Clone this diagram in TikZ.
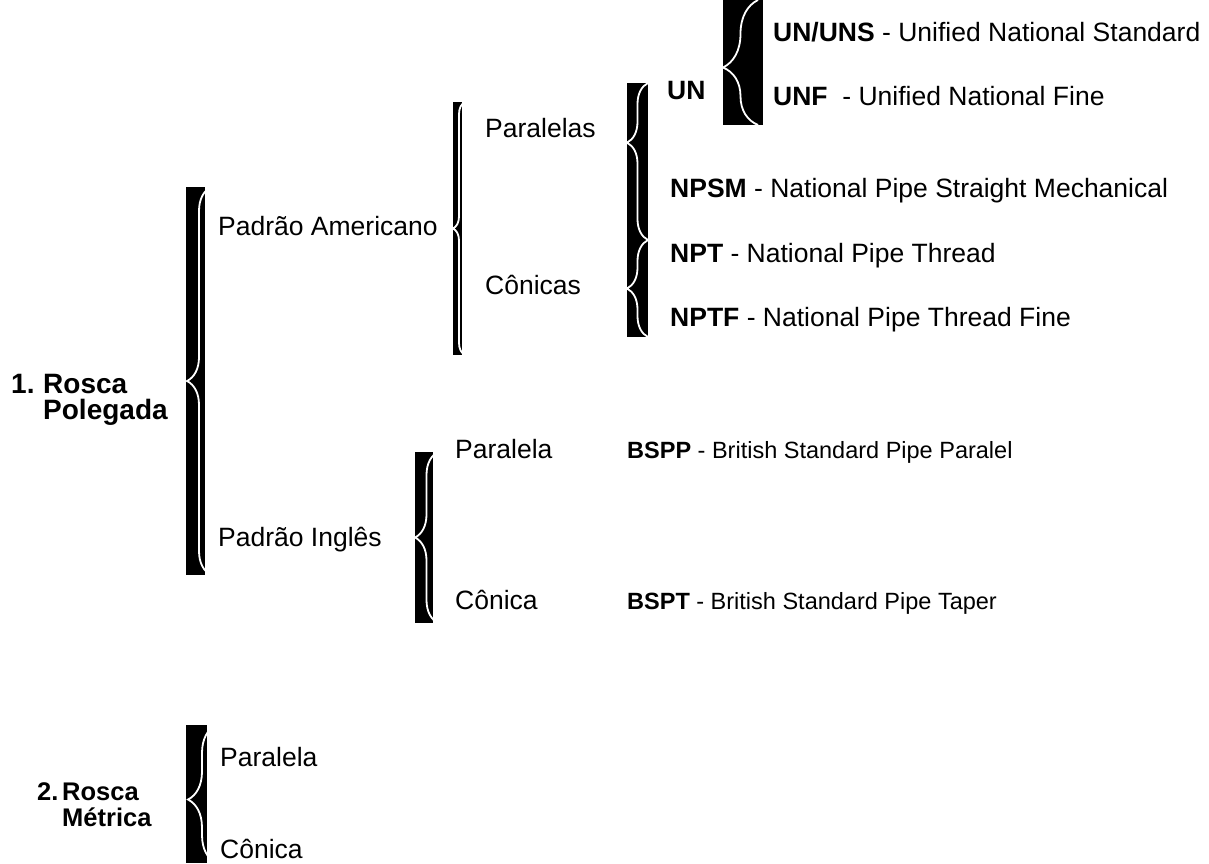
\documentclass[tikz,border=0pt]{standalone}
\usepackage{fontspec}
\setmainfont{Liberation Sans}
\usetikzlibrary{decorations.pathreplacing}
\begin{document}
\begin{tikzpicture}[x=1pt,y=-1pt,
  lbl/.style={anchor=base west,inner sep=0pt,font=\fontsize{26.5}{32}\selectfont},
  head/.style={lbl,font=\fontsize{28}{34}\selectfont\bfseries},
  bar/.style={fill=black},
  whitebrace/.style={draw=white,line width=1.8pt,decorate,
    decoration={brace,amplitude=#1}}]
\useasboundingbox (0,0) rectangle (1209,863);
% 1. rosca polegada
\node[head] (n1) at (11,393) {1.};
\node[head] (rp) at (43,393) {Rosca};
\node[head] (pol) at (43,419) {Polegada};
\fill[bar] (186,187) rectangle (205,575);
\draw[whitebrace=24] (211,575) -- (211,187);
\node[lbl] (am) at (218,235) {Padrão Americano};
\node[lbl] (ing) at (218,546) {Padrão Inglês};
% padrao americano
\fill[bar] (453,102) rectangle (462,355);
\draw[whitebrace=12] (465,355) -- (465,102);
\node[lbl] (par) at (485,137) {Paralelas};
\node[lbl] (con) at (485,294) {Cônicas};
\fill[bar] (627,83) rectangle (648,337);
\draw[whitebrace=21,decoration={aspect=0.62}] (648,240) -- (648,83);
\draw[whitebrace=21] (648,337) -- (648,240);
\node[lbl,font=\fontsize{26.5}{32}\selectfont\bfseries] (un) at (667,99) {UN};
\fill[bar] (723,0) rectangle (763,125);
\draw[whitebrace=35,decoration={aspect=0.46}] (758,125) -- (758,0);
\node[lbl] (uns) at (773,41) {\textbf{UN/UNS} - Unified National Standard};
\node[lbl] (unf) at (773,105) {\textbf{UNF}\ \ - Unified National Fine};
\node[lbl] (npsm) at (670,197) {\textbf{NPSM} - National Pipe Straight Mechanical};
\node[lbl] (npt) at (670,262) {\textbf{NPT} - National Pipe Thread};
\node[lbl] (nptf) at (670,326) {\textbf{NPTF} - National Pipe Thread Fine};
% padrao ingles
\fill[bar] (415,452) rectangle (433,623);
\draw[whitebrace=23] (438,623) -- (438,452);
\node[lbl] (ipar) at (455,458) {Paralela};
\node[lbl] (icon) at (455,609) {Cônica};
\node[lbl,font=\fontsize{23.5}{28}\selectfont] (bspp) at (627,458) {\textbf{BSPP} - British Standard Pipe Paralel};
\node[lbl,font=\fontsize{23.5}{28}\selectfont] (bspt) at (627,609) {\textbf{BSPT} - British Standard Pipe Taper};
% 2. rosca metrica
\node[head,font=\fontsize{25.5}{31}\selectfont\bfseries] (n2) at (37,800) {2.};
\node[head,font=\fontsize{25.5}{31}\selectfont\bfseries] (rm) at (62,800) {Rosca};
\node[head,font=\fontsize{25.5}{31}\selectfont\bfseries] (met) at (62,826) {Métrica};
\fill[bar] (186,725) rectangle (207,863);
\draw[whitebrace=28,decoration={aspect=0.46}] (216,863) -- (216,725);
\node[lbl] (mpar) at (220,766) {Paralela};
\node[lbl] (mcon) at (220,858) {Cônica};
\end{tikzpicture}
\end{document}
